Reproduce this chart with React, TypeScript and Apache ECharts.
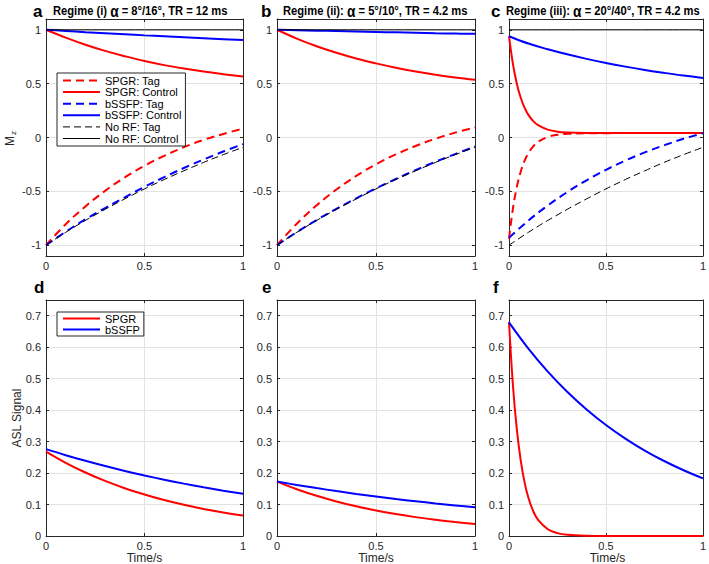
import React, { useEffect, useRef } from 'react';
import * as echarts from 'echarts';

// ---------- data ----------
const T11 = [0, 0.1, 0.2, 0.3, 0.4, 0.5, 0.6, 0.7, 0.8, 0.9, 1];
const T_FAST = [0, 0.02, 0.04, 0.06, 0.08, 0.1, 0.125, 0.15, 0.2, 0.25, 0.3, 0.4, 0.5, 0.6, 0.7, 0.8, 0.9, 1];
const T_FLAT = [0, 1];

const X_TICKS = [0, 0.5, 1];
const MZ_TICKS = [-1, -0.5, 0, 0.5, 1];
const ASL_TICKS = [0, 0.1, 0.2, 0.3, 0.4, 0.5, 0.6, 0.7];

// Regime (i)
const A_SPGR_TAG = [-1, -0.805, -0.64, -0.495, -0.37, -0.262, -0.17, -0.09, -0.022, 0.033, 0.082];
const A_SPGR_CTRL = [1, 0.927, 0.861, 0.804, 0.755, 0.71, 0.672, 0.64, 0.612, 0.588, 0.566];
const A_SSFP_TAG = [-1, -0.875, -0.76, -0.655, -0.555, -0.458, -0.368, -0.283, -0.204, -0.13, -0.062];
const A_SSFP_CTRL = [1, 0.989, 0.978, 0.968, 0.958, 0.948, 0.939, 0.93, 0.921, 0.913, 0.905];
// Regime (ii)
const B_SPGR_TAG = [-1, -0.8, -0.63, -0.483, -0.357, -0.248, -0.157, -0.079, -0.012, 0.045, 0.093];
const B_SPGR_CTRL = [1, 0.918, 0.847, 0.786, 0.733, 0.688, 0.648, 0.613, 0.583, 0.557, 0.535];
const B_SSFP_TAG = [-1, -0.878, -0.766, -0.662, -0.565, -0.472, -0.385, -0.303, -0.226, -0.154, -0.084];
const B_SSFP_CTRL = [1, 0.996, 0.992, 0.988, 0.984, 0.98, 0.976, 0.972, 0.968, 0.965, 0.962];
// Regime (iii)
const C_SPGR_TAG = [-0.94, -0.662, -0.463, -0.32, -0.218, -0.145, -0.082, -0.04, 0.005, 0.025, 0.034, 0.039, 0.04, 0.041, 0.041, 0.041, 0.041, 0.041];
const C_SPGR_CTRL = [0.94, 0.685, 0.502, 0.371, 0.278, 0.21, 0.152, 0.114, 0.073, 0.054, 0.047, 0.042, 0.041, 0.041, 0.041, 0.041, 0.041, 0.041];
const C_SSFP_TAG = [-0.93, -0.771, -0.631, -0.507, -0.397, -0.3, -0.214, -0.138, -0.072, -0.012, 0.04];
const C_SSFP_CTRL = [0.94, 0.872, 0.819, 0.772, 0.73, 0.692, 0.658, 0.627, 0.6, 0.575, 0.553];
// No RF (same in all regimes)
const NORF_TAG = [-1, -0.88, -0.77, -0.667, -0.57, -0.477, -0.39, -0.309, -0.231, -0.159, -0.091];
const NORF_CTRL = [1, 1];
// ASL signal
const D_SPGR = [0.268, 0.2325, 0.2017, 0.175, 0.1519, 0.132, 0.1143, 0.0992, 0.086, 0.0746, 0.0648];
const D_SSFP = [0.276, 0.2568, 0.2389, 0.2222, 0.2067, 0.1923, 0.1789, 0.1665, 0.1549, 0.1441, 0.134];
const E_SPGR = [0.173, 0.1487, 0.1278, 0.1099, 0.0944, 0.0811, 0.0698, 0.06, 0.0516, 0.0443, 0.038];
const E_SSFP = [0.173, 0.1622, 0.1522, 0.1427, 0.1338, 0.1255, 0.1177, 0.1104, 0.1035, 0.0971, 0.091];
const F_SPGR = [0.68, 0.4815, 0.341, 0.2417, 0.1712, 0.1213, 0.0788, 0.0512, 0.0216, 0.0091, 0.0039, 0.0007, 0, 0, 0, 0, 0, 0];
const F_SSFP = [0.679, 0.5957, 0.5226, 0.4585, 0.4022, 0.3528, 0.3096, 0.2715, 0.2383, 0.209, 0.1833];

const LEGEND_TOP = ['SPGR: Tag', 'SPGR: Control', 'bSSFP: Tag', 'bSSFP: Control', 'No RF: Tag', 'No RF: Control'];
const LEGEND_BOTTOM = ['SPGR', 'bSSFP'];

// ---------- style ----------
const FONT = '"Liberation Sans", Arial, sans-serif';
const AX = '#262626';
const RED = '#ff0000';
const BLUE = '#0000ff';

const GRIDS = [
  { left: 46, top: 19, width: 197, height: 237 },
  { left: 277, top: 19, width: 198, height: 237 },
  { left: 509, top: 19, width: 197, height: 237 },
  { left: 46, top: 300, width: 197, height: 236 },
  { left: 277, top: 300, width: 198, height: 236 },
  { left: 509, top: 300, width: 197, height: 236 },
];

const zip = (t: number[], v: number[]) => t.map((x, i) => [x, v[i]]);

function line(name: string, gi: number, t: number[], v: number[], color: string, width: number, dash?: number[]) {
  return {
    type: 'line',
    name,
    xAxisIndex: 2 * gi,
    yAxisIndex: 2 * gi,
    data: zip(t, v),
    symbol: 'none',
    showSymbol: false,
    smooth: 0.4,
    clip: true,
    silent: true,
    lineStyle: { color, width, type: dash ? dash : 'solid' },
    itemStyle: { color },
  };
}

const THICK_DASH = [8, 5];
const THIN_DASH = [7, 4];

function buildOption() {
  const xAxis: any[] = [];
  const yAxis: any[] = [];
  GRIDS.forEach((g, gi) => {
    const isTop = gi < 3;
    xAxis.push({
      type: 'value', gridIndex: gi, min: 0, max: 1, interval: 0.5, position: 'bottom',
      axisLine: { show: true, onZero: false, lineStyle: { color: AX, width: 1 } },
      axisTick: { show: true, inside: true, length: 3, lineStyle: { color: AX } },
      axisLabel: { show: true, margin: 4, color: AX, fontSize: 11, fontFamily: FONT, formatter: (v: number) => String(v), customValues: X_TICKS },
      splitLine: { show: true, lineStyle: { color: '#e2e2e2', width: 1 } },
    });
    xAxis.push({
      type: 'value', gridIndex: gi, min: 0, max: 1, interval: 0.5, position: 'top',
      axisLine: { show: true, onZero: false, lineStyle: { color: AX, width: 1 } },
      axisTick: { show: true, inside: true, length: 3, lineStyle: { color: AX } },
      axisLabel: { show: false },
      splitLine: { show: false },
    });
    const ticks = isTop ? MZ_TICKS : ASL_TICKS;
    const fmt = (v: number) => (isTop ? String(v) : v === 0 ? '0' : v.toFixed(1));
    yAxis.push({
      type: 'value', gridIndex: gi, min: isTop ? -1.1 : 0, max: isTop ? 1.1 : 0.75, position: 'left',
      axisLine: { show: true, onZero: false, lineStyle: { color: AX, width: 1 } },
      axisTick: { show: true, inside: true, length: 3, lineStyle: { color: AX }, customValues: ticks },
      axisLabel: { show: true, margin: 5, color: AX, fontSize: 11, fontFamily: FONT, formatter: fmt, customValues: ticks },
      splitLine: { show: true, lineStyle: { color: '#e2e2e2', width: 1 } },
    });
    yAxis.push({
      type: 'value', gridIndex: gi, min: isTop ? -1.1 : 0, max: isTop ? 1.1 : 0.75, position: 'right',
      axisLine: { show: true, onZero: false, lineStyle: { color: AX, width: 1 } },
      axisTick: { show: true, inside: true, length: 3, lineStyle: { color: AX }, customValues: ticks },
      axisLabel: { show: false },
      splitLine: { show: false },
    });
  });

  const series: any[] = [
    // a
    line('SPGR: Tag', 0, T11, A_SPGR_TAG, RED, 2, THICK_DASH),
    line('SPGR: Control', 0, T11, A_SPGR_CTRL, RED, 2),
    line('bSSFP: Tag', 0, T11, A_SSFP_TAG, BLUE, 2, THICK_DASH),
    line('bSSFP: Control', 0, T11, A_SSFP_CTRL, BLUE, 2),
    line('No RF: Tag', 0, T11, NORF_TAG, '#000', 1, THIN_DASH),
    line('No RF: Control', 0, T_FLAT, NORF_CTRL, '#000', 1),
    // b
    line('b SPGR: Tag', 1, T11, B_SPGR_TAG, RED, 2, THICK_DASH),
    line('b SPGR: Control', 1, T11, B_SPGR_CTRL, RED, 2),
    line('b bSSFP: Tag', 1, T11, B_SSFP_TAG, BLUE, 2, THICK_DASH),
    line('b bSSFP: Control', 1, T11, B_SSFP_CTRL, BLUE, 2),
    line('b No RF: Tag', 1, T11, NORF_TAG, '#000', 1, THIN_DASH),
    line('b No RF: Control', 1, T_FLAT, NORF_CTRL, '#000', 1),
    // c
    line('c SPGR: Tag', 2, T_FAST, C_SPGR_TAG, RED, 2, THICK_DASH),
    line('c SPGR: Control', 2, T_FAST, C_SPGR_CTRL, RED, 2),
    line('c bSSFP: Tag', 2, T11, C_SSFP_TAG, BLUE, 2, THICK_DASH),
    line('c bSSFP: Control', 2, T11, C_SSFP_CTRL, BLUE, 2),
    line('c No RF: Tag', 2, T11, NORF_TAG, '#000', 1, THIN_DASH),
    line('c No RF: Control', 2, T_FLAT, NORF_CTRL, '#000', 1),
    // d
    line('SPGR', 3, T11, D_SPGR, RED, 2),
    line('bSSFP', 3, T11, D_SSFP, BLUE, 2),
    // e
    line('e SPGR', 4, T11, E_SPGR, RED, 2),
    line('e bSSFP', 4, T11, E_SSFP, BLUE, 2),
    // f
    line('f SPGR', 5, T_FAST, F_SPGR, RED, 2),
    line('f bSSFP', 5, T11, F_SSFP, BLUE, 2),
  ];

  const legendCommon = {
    orient: 'vertical',
    itemWidth: 37,
    itemHeight: 8,
    selectedMode: false,
    backgroundColor: '#fff',
    borderColor: AX,
    borderWidth: 1,
    borderRadius: 0,
    itemStyle: { color: 'transparent', borderColor: 'transparent', borderWidth: 0, opacity: 0 },
    textStyle: { fontSize: 11, lineHeight: 11, color: '#000', fontFamily: FONT },
  };

  const topLegendData = LEGEND_TOP.map((name, i) => ({
    name,
    lineStyle: i >= 4 ? { width: 1, type: i === 4 ? THIN_DASH : 'solid', color: '#000' } : { width: 2 },
  }));

  const legend = [
    { ...legendCommon, left: 57, top: 73, itemGap: 0.6, padding: [2, 4, 2, 5], data: topLegendData },
    { ...legendCommon, left: 57, top: 312, itemGap: 0, padding: [1, 4, 1, 5], textStyle: { ...legendCommon.textStyle, lineHeight: 10 }, data: LEGEND_BOTTOM },
  ];

  const titleRich = {
    t: { fontFamily: FONT, fontWeight: 'bold', fontSize: 13, fill: '#000' },
    g: { fontFamily: FONT, fontWeight: 'bold', fontSize: 16, fill: '#000' },
  };
  const titles = [
    { x: 33, lx: 53, text: '{t|Regime (i) }{g|α}{t| = 8°/16°, TR = 12 ms}', letter: 'a' },
    { x: 261, lx: 283, text: '{t|Regime (ii): }{g|α}{t| = 5°/10°, TR = 4.2 ms}', letter: 'b' },
    { x: 491, lx: 506, text: '{t|Regime (iii): }{g|α}{t| = 20°/40°, TR = 4.2 ms}', letter: 'c' },
  ];
  const bottomLetters = [
    { x: 34, letter: 'd' },
    { x: 262, letter: 'e' },
    { x: 493, letter: 'f' },
  ];

  const graphic: any[] = [];
  titles.forEach((t) => {
    graphic.push({ type: 'text', x: t.x, y: 11, style: { text: t.letter, font: `bold 17px ${FONT}`, fill: '#000', verticalAlign: 'middle' } });
    graphic.push({ type: 'text', x: t.lx, y: 11, scaleX: 0.86, style: { text: t.text, rich: titleRich, verticalAlign: 'middle' } });
  });
  bottomLetters.forEach((t) => {
    graphic.push({ type: 'text', x: t.x, y: 287, style: { text: t.letter, font: `bold 17px ${FONT}`, fill: '#000', verticalAlign: 'middle' } });
  });
  // axis titles
  graphic.push({ type: 'text', x: 10, y: 141, rotation: Math.PI / 2, style: { text: 'M', font: `12px ${FONT}`, fill: AX, align: 'center', verticalAlign: 'middle' } });
  graphic.push({ type: 'text', x: 13, y: 133, rotation: Math.PI / 2, style: { text: 'z', font: `8px ${FONT}`, fill: AX, align: 'center', verticalAlign: 'middle' } });
  graphic.push({ type: 'text', x: 17, y: 418, rotation: Math.PI / 2, style: { text: 'ASL Signal', font: `12px ${FONT}`, fill: AX, align: 'center', verticalAlign: 'middle' } });
  GRIDS.slice(3).forEach((g) => {
    graphic.push({ type: 'text', x: g.left + g.width / 2, y: 558, style: { text: 'Time/s', font: `12px ${FONT}`, fill: AX, align: 'center', verticalAlign: 'middle' } });
  });

  return {
    animation: false,
    backgroundColor: '#fff',
    grid: GRIDS.map((g) => ({ ...g, containLabel: false })),
    xAxis,
    yAxis,
    series,
    legend,
    graphic,
  };
}

export default function App() {
  const ref = useRef<HTMLDivElement>(null);
  useEffect(() => {
    if (!ref.current) return;
    const chart = echarts.init(ref.current, undefined, { renderer: 'svg' });
    chart.setOption(buildOption() as any);
    return () => chart.dispose();
  }, []);
  return (
    <div
      ref={ref}
      style={{ position: 'fixed', left: 0, top: 0, width: 709, height: 564, background: '#fff' }}
    />
  );
}
